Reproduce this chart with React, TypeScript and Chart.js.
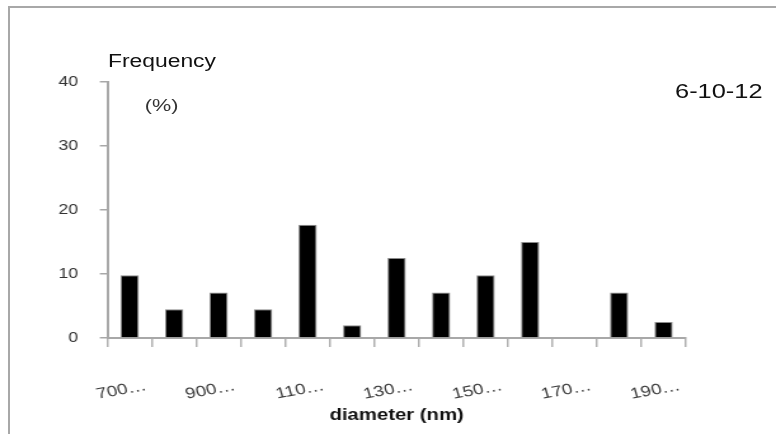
import React, { useEffect, useRef } from "react";
import { Chart, registerables } from "chart.js";

Chart.register(...registerables);

// ---- data ----
const categories = [
  "700-800",
  "800-900",
  "900-1000",
  "1000-1100",
  "1100-1200",
  "1200-1300",
  "1300-1400",
  "1400-1500",
  "1500-1600",
  "1600-1700",
  "1700-1800",
  "1800-1900",
  "1900-2000",
];
const frequency = [9.8, 4.5, 7.1, 4.5, 17.7, 2.0, 12.5, 7.1, 9.8, 15.0, 0, 7.1, 2.5];
const yTickValues = [0, 10, 20, 30, 40];
const yTitleLines = ["Frequency", "(%)"];
const sampleLabel = "6-10-12";
const xTitle = "diameter (nm)";

// ---- layout (the reference is horizontally stretched) ----
const W = 611;
const H = 434;
const SX = 776 / W;
const FONT = "'Liberation Sans', Arial, sans-serif";

export default function App() {
  const canvasRef = useRef<HTMLCanvasElement | null>(null);

  useEffect(() => {
    const canvas = canvasRef.current;
    if (!canvas) return;
    const chart = new Chart(canvas, {
      type: "bar",
      data: {
        labels: categories,
        datasets: [
          {
            data: frequency,
            backgroundColor: "#000000",
            borderColor: "#8a8a8a",
            borderWidth: 1,
            barPercentage: 0.41,
            categoryPercentage: 1,
          },
        ],
      },
      options: {
        responsive: false,
        animation: false,
        devicePixelRatio: 1,
        layout: { padding: { left: 0, top: 82, right: 71, bottom: 0 } },
        plugins: {
          legend: { display: false },
          tooltip: { enabled: false },
          title: { display: false },
        },
        scales: {
          x: {
            type: "category",
            grid: {
              offset: true,
              drawOnChartArea: false,
              drawTicks: true,
              tickLength: 9,
              color: "#b0b0b0",
              lineWidth: 1.5,
            },
            border: { color: "#a8a8a8", width: 2 },
            ticks: {
              autoSkip: false,
              minRotation: 13,
              maxRotation: 13,
              labelOffset: 13,
              padding: 30,
              color: "#3a3a3a",
              font: { family: FONT, size: 15 },
              callback: (_v: any, i: number) =>
                i % 2 === 0 ? categories[i].slice(0, 3) + "\u2026" : "",
            },
            title: {
              display: true,
              text: xTitle,
              color: "#111111",
              font: { family: FONT, size: 16, weight: "bold" },
              padding: { top: 0, bottom: 9 },
            },
            afterFit: (s: any) => {
              s.height = H - 338;
            },
          },
          y: {
            min: 0,
            max: 40,
            afterBuildTicks: (s: any) => {
              s.ticks = yTickValues.map((v) => ({ value: v }));
            },
            grid: {
              drawOnChartArea: false,
              drawTicks: true,
              tickLength: 6,
              color: "#a8a8a8",
              lineWidth: 1.5,
            },
            border: { color: "#a8a8a8", width: 2 },
            ticks: {
              padding: 17,
              color: "#333333",
              font: { family: FONT, size: 14 },
            },
            afterFit: (s: any) => {
              s.width = 84.6;
            },
          },
        },
      },
    });
    return () => chart.destroy();
  }, []);

  return (
    <div style={{ position: "absolute", left: 0, top: 0, width: 776, height: 434, overflow: "hidden", background: "#fff" }}>
      <div
        style={{
          position: "absolute",
          left: 8,
          top: 6,
          width: 800,
          height: 460,
          borderLeft: "2px solid #a8a8a8",
          borderTop: "2px solid #a8a8a8",
        }}
      />
      <div
        style={{
          position: "absolute",
          left: 0,
          top: 0,
          width: W,
          height: H,
          transform: `scaleX(${SX})`,
          transformOrigin: "0 0",
        }}
      >
        <canvas ref={canvasRef} width={W} height={H} style={{ display: "block" }} />
        <div style={{ position: "absolute", left: 85, top: 52, fontFamily: FONT, fontSize: 18, lineHeight: 1, color: "#111", whiteSpace: "nowrap" }}>
          {yTitleLines[0]}
        </div>
        <div style={{ position: "absolute", left: 114, top: 97, fontFamily: FONT, fontSize: 17, lineHeight: 1, color: "#333", whiteSpace: "nowrap" }}>
          {yTitleLines[1]}
        </div>
        <div style={{ position: "absolute", left: 531.5, top: 80.5, fontFamily: FONT, fontSize: 20, lineHeight: 1, color: "#111", whiteSpace: "nowrap" }}>
          {sampleLabel}
        </div>
      </div>
    </div>
  );
}
